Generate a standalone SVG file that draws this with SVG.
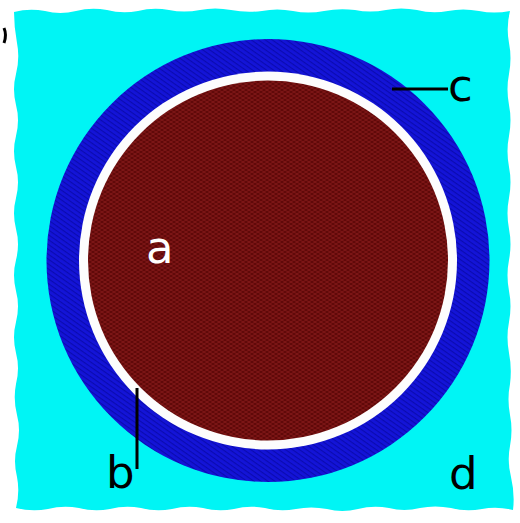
<svg xmlns="http://www.w3.org/2000/svg" width="520" height="523" viewBox="0 0 520 523">
<defs>
<pattern id="hatchBlue" patternUnits="userSpaceOnUse" width="4" height="4" patternTransform="rotate(35)">
<rect width="4" height="4" fill="#1414d8"/>
<rect width="4" height="1.2" fill="#0b0bb0"/>
</pattern>
<pattern id="hatchBrown" patternUnits="userSpaceOnUse" width="6" height="4">
<rect width="6" height="4" fill="#600909"/>
<path d="M0,0 L6,4 M0,4 L6,0" stroke="#821818" stroke-width="0.9" fill="none"/>
</pattern>
<style>
.lbl{font-family:"DejaVu Sans","Liberation Sans",sans-serif;font-size:45px;}
.lead{stroke:#000;stroke-width:3;fill:none;}
</style>
</defs>
<rect width="520" height="523" fill="#ffffff"/>
<g id="medium-d">
<path fill="#00f5f5" d="M14,12 Q29,8 45,11 Q60,15 76,11 Q91,7 107,10 Q122,14 138,11 Q153,7 169,10 Q184,13 200,10 Q215,7 231,10 Q246,13 262,11 Q277,8 293,11 Q308,14 324,11 Q339,8 355,10 Q370,13 386,10 Q401,7 417,10 Q432,14 448,11 Q463,8 479,11 Q494,14 510,11 Q506,27 509,43 Q512,58 509,74 Q506,89 509,105 Q512,120 509,136 Q506,151 509,167 Q512,182 509,198 Q506,213 509,229 Q512,244 509,260 Q506,275 509,291 Q512,306 509,322 Q506,337 509,353 Q512,368 510,384 Q507,399 510,415 Q513,430 510,446 Q507,461 511,477 Q515,494 513,510 Q497,506 482,509 Q466,512 451,508 Q435,505 420,508 Q404,512 389,508 Q373,505 358,509 Q342,513 327,509 Q311,506 296,509 Q280,512 265,508 Q249,505 234,509 Q218,512 203,508 Q187,505 172,509 Q156,512 141,508 Q125,505 110,509 Q94,512 79,508 Q63,505 48,509 Q32,512 16,508 Q20,492 17,477 Q13,461 17,446 Q21,430 17,415 Q13,399 16,384 Q20,368 16,353 Q12,337 16,322 Q20,306 16,291 Q12,275 16,260 Q20,244 16,229 Q12,213 16,198 Q20,182 16,167 Q12,151 16,136 Q20,120 16,105 Q12,89 16,74 Q20,58 17,43 Q14,27 14,12 Z"/>
</g>
<g id="layer-c">
<circle cx="268" cy="260.5" r="221.5" fill="url(#hatchBlue)"/>
</g>
<g id="gap-b">
<circle cx="268" cy="260.5" r="189" fill="#fdfdfd"/>
</g>
<g id="core-a">
<circle cx="268" cy="260.5" r="180" fill="url(#hatchBrown)"/>
</g>
<g id="connectors">
<line class="lead" x1="392" y1="89" x2="448" y2="89"/>
<line class="lead" x1="137" y1="388" x2="137" y2="469"/>
<path class="lead" d="M4,28 Q7,35 4,43" stroke-width="2.5"/>
</g>
<g id="labels">
<text class="lbl" x="146" y="263" fill="#ffffff" font-size="43">a</text>
<text class="lbl" x="106" y="488" fill="#000">b</text>
<text class="lbl" x="448" y="101" fill="#000">c</text>
<text class="lbl" x="449" y="489" fill="#000">d</text>
</g>
</svg>
